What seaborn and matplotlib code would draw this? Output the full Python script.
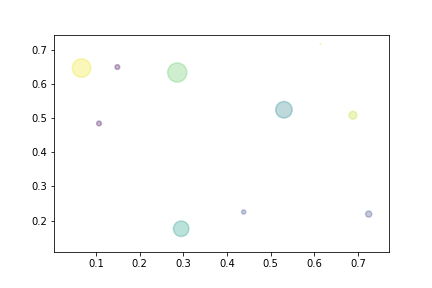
import matplotlib
matplotlib.use("Agg")
import matplotlib.pyplot as plt
import seaborn as sns
import pandas as pd
import numpy as np

x = [0.067, 0.149, 0.286, 0.107, 0.614, 0.530, 0.688, 0.295, 0.438, 0.724]
y = [0.646, 0.649, 0.633, 0.484, 0.716, 0.524, 0.508, 0.176, 0.225, 0.219]
color_value = [0.97, 0.02, 0.75, 0.03, 0.95, 0.45, 0.90, 0.55, 0.25, 0.22]
size_value = [342, 23, 369, 23, 0.5, 272, 61, 240, 18, 38]

df = pd.DataFrame({"x": x, "y": y, "c": color_value, "s": size_value})

fig, ax = plt.subplots(figsize=(6, 4), dpi=72)
fig.subplots_adjust(left=0.125, right=0.9, top=0.88, bottom=0.125)
sns.scatterplot(data=df, x="x", y="y", hue="c", palette="viridis", hue_norm=(0, 1),
                size="s", sizes=(min(size_value), max(size_value)),
                size_norm=(min(size_value), max(size_value)),
                alpha=0.3, edgecolor="face", linewidth=1.5, legend=False, ax=ax)
ax.set_xlabel("")
ax.set_ylabel("")
ax.set_xlim(0.004, 0.770)
ax.set_ylim(0.108, 0.744)
ax.set_xticks([0.1, 0.2, 0.3, 0.4, 0.5, 0.6, 0.7])
ax.set_yticks([0.2, 0.3, 0.4, 0.5, 0.6, 0.7])
fig.savefig("out.png", dpi=72)
